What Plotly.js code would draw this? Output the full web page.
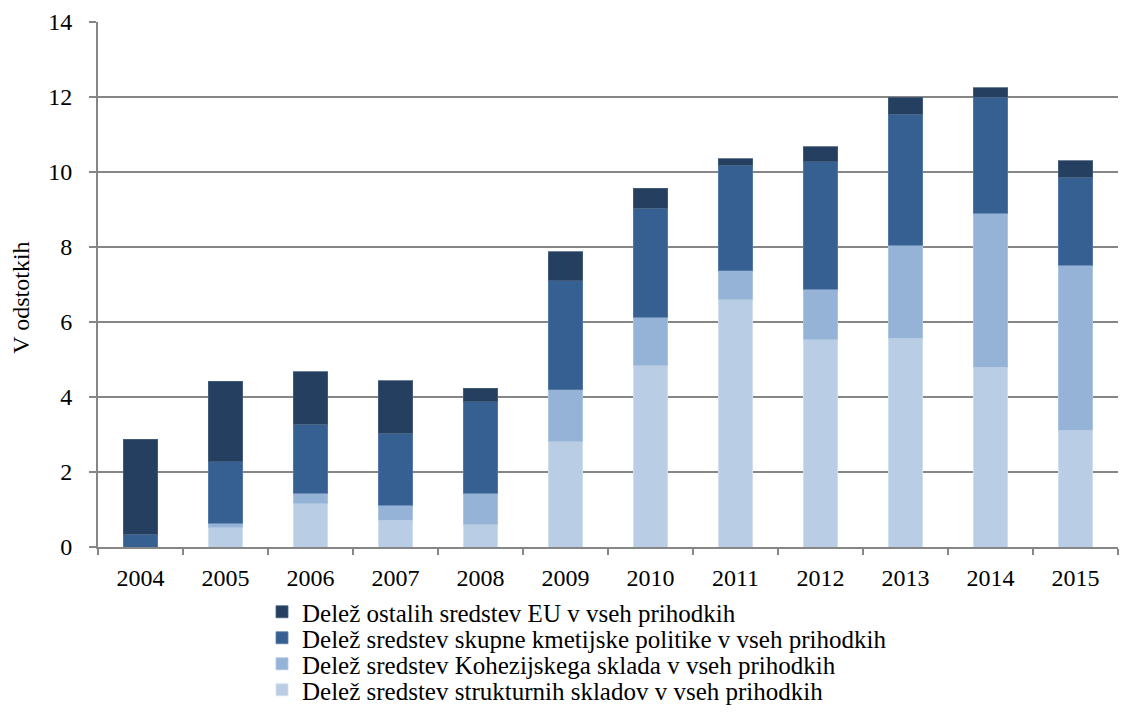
<!DOCTYPE html>
<html>
<head>
<meta charset="utf-8">
<script src="https://cdn.plot.ly/plotly-3.0.1.min.js"></script>
<style>html,body{margin:0;padding:0;background:#fff;}#chart{width:1128px;height:717px;}</style>
</head>
<body>
<div id="chart"></div>
<script>
const years = ["2004","2005","2006","2007","2008","2009","2010","2011","2012","2013","2014","2015"];
const structural = [0.00, 0.52, 1.15, 0.72, 0.60, 2.81, 4.84, 6.60, 5.53, 5.57, 4.79, 3.12];
const cohesion   = [0.00, 0.11, 0.28, 0.39, 0.84, 1.38, 1.29, 0.77, 1.34, 2.48, 4.11, 4.39];
const cap        = [0.34, 1.64, 1.85, 1.93, 2.44, 2.91, 2.91, 2.81, 3.41, 3.49, 3.10, 2.35];
const otherEU    = [2.53, 2.15, 1.40, 1.39, 0.36, 0.78, 0.53, 0.18, 0.40, 0.46, 0.25, 0.44];
const yTicks = [0, 2, 4, 6, 8, 10, 12, 14];

const names = [
  "Delež sredstev strukturnih skladov v vseh prihodkih",
  "Delež sredstev Kohezijskega sklada v vseh prihodkih",
  "Delež sredstev skupne kmetijske politike v vseh prihodkih",
  "Delež ostalih sredstev EU v vseh prihodkih"
];
const series = [structural, cohesion, cap, otherEU];
const colors = ["#B9CDE5", "#95B3D7", "#366092", "#253F61"];
const edge = ["#d6e1ef", "#b3c8e2", "#5a7fab", "#4a6180"];
const legendIds = ["legend4", "legend3", "legend2", "legend"];

const data = series.map((vals, i) => ({
  type: "bar",
  x: years,
  y: vals,
  name: names[i],
  legend: legendIds[i],
  marker: {color: colors[i], line: {color: edge[i], width: 0.8}},
  hoverinfo: "x+y"
}));

const font = "Liberation Serif, Times New Roman, serif";
const H = 717;
function legendAt(centerPx) {
  return {
    xref: "container", yref: "container",
    x: 262 / 1128, y: 1 - centerPx / H, xanchor: "left", yanchor: "middle",
    orientation: "v",
    font: {family: font, size: 25, color: "#000"},
    itemwidth: 30, bgcolor: "rgba(0,0,0,0)", borderwidth: 0
  };
}

const layout = {
  width: 1128, height: H,
  margin: {l: 98, r: 10, t: 22, b: 170, autoexpand: false},
  barmode: "stack",
  bargap: 0.59,
  paper_bgcolor: "#fff",
  plot_bgcolor: "#fff",
  font: {family: font, size: 24, color: "#000"},
  showlegend: true,
  legend: legendAt(612),
  legend2: legendAt(638),
  legend3: legendAt(664),
  legend4: legendAt(690),
  xaxis: {
    type: "category",
    showline: true, linecolor: "#868686", linewidth: 2,
    ticks: "outside", tickson: "boundaries", ticklen: 6, tickcolor: "#868686", tickwidth: 2,
    showgrid: false, zeroline: false,
    ticklabelstandoff: 8,
    tickfont: {family: font, size: 24, color: "#000"}
  },
  yaxis: {
    range: [0, 14], tickvals: yTicks, ticktext: yTicks.map(String),
    showline: true, linecolor: "#868686", linewidth: 2,
    ticks: "outside", ticklen: 7, tickcolor: "#868686", tickwidth: 2,
    showgrid: true, gridcolor: "#868686", gridwidth: 2,
    zeroline: false,
    ticklabelstandoff: 12,
    tickfont: {family: font, size: 24, color: "#000"}
  },
  annotations: [{
    text: "V odstotkih", textangle: -90,
    xref: "paper", yref: "paper", x: -0.075, y: 0.474,
    xanchor: "center", yanchor: "middle", showarrow: false,
    font: {family: font, size: 24, color: "#000"}
  }]
};

Plotly.newPlot("chart", data, layout, {displayModeBar: false, staticPlot: true});
</script>
</body>
</html>
